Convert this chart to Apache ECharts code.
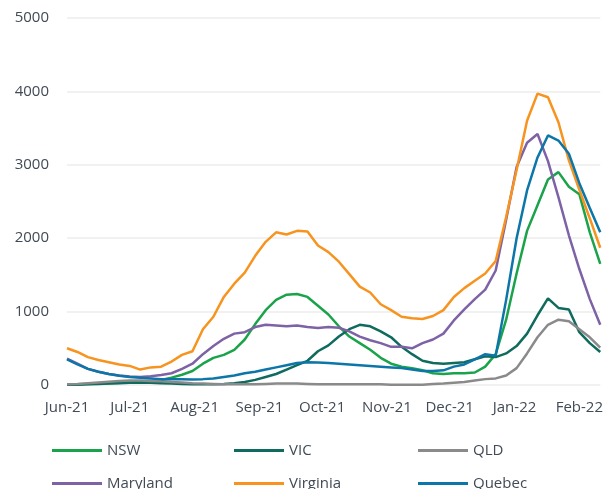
<!DOCTYPE html>
<html>
<head>
<meta charset="utf-8">
<style>
html, body { margin: 0; padding: 0; background: #fff; }
#chart { width: 606px; height: 489px; }
</style>
</head>
<body>
<div id="chart"></div>
<script src="https://cdn.jsdelivr.net/npm/echarts@6/dist/echarts.min.js"></script>
<script>
// sample dates (every 5 days)
var dates = [
  '2021-06-01','2021-06-06','2021-06-11','2021-06-16','2021-06-21','2021-06-26',
  '2021-07-01','2021-07-06','2021-07-11','2021-07-16','2021-07-21','2021-07-26','2021-07-31',
  '2021-08-05','2021-08-10','2021-08-15','2021-08-20','2021-08-25','2021-08-30',
  '2021-09-04','2021-09-09','2021-09-14','2021-09-19','2021-09-24','2021-09-29',
  '2021-10-04','2021-10-09','2021-10-14','2021-10-19','2021-10-24','2021-10-29',
  '2021-11-03','2021-11-08','2021-11-13','2021-11-18','2021-11-23','2021-11-28',
  '2021-12-03','2021-12-08','2021-12-13','2021-12-18','2021-12-23','2021-12-28',
  '2022-01-02','2022-01-07','2022-01-12','2022-01-17','2022-01-22','2022-01-27',
  '2022-02-01','2022-02-06','2022-02-11'
];

var nsw = [10,10,15,20,25,30, 35,40,50,70,100,140,190, 290,370,410,480,620,830,
  1020,1160,1230,1240,1200,1080, 960,800,660,570,480,370, 290,250,230,200,160,150,
  160,160,170,250,420,890, 1520,2100,2450,2800,2900,2700, 2600,2080,1650];
var vic = [5,5,10,15,20,25, 30,30,30,25,20,15,10, 10,10,15,25,40,70,
  110,150,210,270,330,460, 540,660,760,820,800,730, 650,520,420,330,300,290,
  300,310,350,390,380,430, 530,700,950,1180,1050,1030, 720,570,450];
var qld = [10,15,25,35,45,55, 60,60,55,50,40,35,25, 20,15,10,10,10,10,
  15,20,20,20,15,10, 10,10,10,10,10,10, 5,5,5,5,15,20,
  30,40,60,80,90,130, 230,430,650,820,890,870, 760,650,510];
var maryland = [360,290,220,180,150,130, 115,110,120,135,160,220,290, 420,530,630,700,720,790,
  820,810,800,810,790,775, 790,780,730,660,610,570, 520,520,500,570,620,700,
  880,1030,1170,1300,1560,2250, 2970,3300,3420,3050,2560,2040, 1580,1170,820];
var virginia = [500,450,380,340,310,280, 260,210,240,250,320,410,460, 760,930,1200,1380,1530,1760,
  1950,2080,2050,2100,2090,1900, 1810,1680,1510,1340,1260,1100, 1020,930,910,900,940,1020,
  1200,1320,1420,1520,1690,2290, 2930,3600,3970,3920,3580,3060, 2660,2270,1870];
var quebec = [350,280,220,180,150,125, 110,100,90,80,80,80,75, 80,90,110,130,160,180,
  210,240,270,300,310,305, 300,290,280,270,260,250, 240,230,210,190,190,200,
  250,280,350,420,400,1160, 2000,2650,3100,3400,3330,3150, 2750,2410,2080];

var seriesNames = ['NSW', 'VIC', 'QLD', 'Maryland', 'Virginia', 'Quebec'];
var seriesValues = [nsw, vic, qld, maryland, virginia, quebec];
var colors = ['#1aa34a', '#0f6b5e', '#8a8a8a', '#7d62a5', '#f7931e', '#0c76a8'];
var monthNames = ['Jan','Feb','Mar','Apr','May','Jun','Jul','Aug','Sep','Oct','Nov','Dec'];

var textColor = '#414a55';
var font = 'Open Sans';

var chart = echarts.init(document.getElementById('chart'));

var legendPos = [[52, 443], [234, 443], [418, 443], [52, 476], [234, 476], [418, 476]];
var legends = seriesNames.map(function (name, i) {
  return {
    data: [name],
    left: legendPos[i][0],
    top: legendPos[i][1],
    padding: 0,
    icon: 'rect',
    itemWidth: 50,
    itemHeight: 3,
    textStyle: { color: textColor, fontSize: 15, fontFamily: font }
  };
});

var option = {
  color: colors,
  animation: false,
  legend: legends,
  grid: { left: 67, right: 5, top: 18, bottom: 104 },
  xAxis: {
    type: 'time',
    min: '2021-06-01',
    max: '2022-02-11',
    minInterval: 28 * 86400000,
    axisLine: { show: false },
    axisTick: { show: false },
    splitLine: { show: false },
    axisLabel: {
      color: textColor,
      fontSize: 15,
      fontFamily: font,
      margin: 15,
      hideOverlap: false,
      formatter: function (val) {
        var d = new Date(val);
        return monthNames[d.getMonth()] + '-' + String(d.getFullYear()).slice(2);
      }
    }
  },
  yAxis: {
    type: 'value',
    min: 0,
    max: 5000,
    interval: 1000,
    axisLine: { show: false },
    axisTick: { show: false },
    splitLine: { lineStyle: { color: '#ececec', width: 1.5 } },
    axisLabel: {
      color: textColor, fontSize: 15, fontFamily: font, margin: 18,
      formatter: function (v) { return String(v); }
    }
  },
  series: seriesNames.map(function (name, i) {
    return {
      name: name,
      type: 'line',
      symbol: 'none',
      lineStyle: { width: 2.5 },
      data: dates.map(function (d, j) { return [d, seriesValues[i][j]]; })
    };
  })
};

chart.setOption(option);
</script>
</body>
</html>
